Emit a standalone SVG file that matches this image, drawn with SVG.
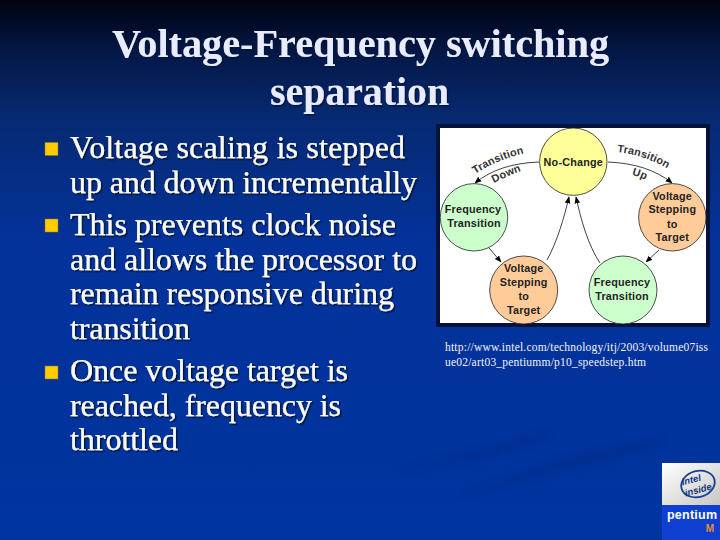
<svg xmlns="http://www.w3.org/2000/svg" width="720" height="540" viewBox="0 0 720 540">
<defs>
<linearGradient id="bg" x1="0" y1="0" x2="0" y2="1">
<stop offset="0" stop-color="#000210"/><stop offset="0.1" stop-color="#041848"/><stop offset="0.22" stop-color="#062a72"/><stop offset="0.45" stop-color="#03329a"/><stop offset="1" stop-color="#00349e"/>
</linearGradient>
<linearGradient id="logo" x1="0" y1="0" x2="1" y2="1"><stop offset="0" stop-color="#ffffff"/><stop offset="1" stop-color="#c9c7c0"/></linearGradient>
<marker id="ah" viewBox="0 0 10 10" refX="9" refY="5" markerWidth="7" markerHeight="7" orient="auto" markerUnits="userSpaceOnUse"><path d="M0 1L10 5L0 9Z" fill="#000"/></marker>
<filter id="sh" x="-5%" y="-5%" width="110%" height="110%"><feDropShadow dx="1.5" dy="1.5" stdDeviation="0.3" flood-color="#03123c" flood-opacity="1"/></filter>
<filter id="bl"><feGaussianBlur stdDeviation="3"/></filter>
<path id="p1" d="M475 174Q500 158 530 152"/>
<path id="p2" d="M494 183Q507 176 524 170"/>
<path id="p3" d="M617 152Q645 155 670 170"/>
<path id="p4" d="M632 175Q640 177 650 182"/>
</defs>
<style>
.title{font:700 41px "Liberation Serif",serif;fill:#e9ecff;text-anchor:middle}
.body{font:32px "Liberation Serif",serif;fill:#fbfbf4;stroke:#fbfbf4;stroke-width:.25}
.src{font:11.5px "Liberation Serif",serif;fill:#f4f4f4}
.n{font:700 10.8px "Liberation Sans",sans-serif;fill:#222;text-anchor:middle;letter-spacing:.2px}
.a{font:700 10.8px "Liberation Sans",sans-serif;fill:#333;letter-spacing:.2px}
.node{stroke:#222;stroke-width:.8}
.bul{fill:#ffcc00;stroke:#8a7a30;stroke-width:.5}
.cn{fill:none;stroke:#111;stroke-width:.8;marker-end:url(#ah)}
</style>
<rect width="720" height="540" fill="url(#bg)"/>
<g fill="#002a88" opacity=".6" filter="url(#bl)">
<path d="M459 497L560 460L660 438L660 446L560 470Z"/>
<path d="M400 470L480 450L547 432L547 438L480 458Z"/>
</g>
<g filter="url(#sh)">
<text class="title" x="360.500" y="57" textLength="497" lengthAdjust="spacingAndGlyphs">Voltage-Frequency switching</text>
<text class="title" x="359.500" y="105" textLength="179" lengthAdjust="spacingAndGlyphs">separation</text>
<text class="body" x="70" y="158" textLength="335">Voltage scaling is stepped</text>
<text class="body" x="70" y="193" textLength="347">up and down incrementally</text>
<text class="body" x="70" y="235" textLength="326">This prevents clock noise</text>
<text class="body" x="70" y="270" textLength="347">and allows the processor to</text>
<text class="body" x="70" y="304" textLength="324">remain responsive during</text>
<text class="body" x="70" y="339" textLength="120">transition</text>
<text class="body" x="70" y="381" textLength="278">Once voltage target is</text>
<text class="body" x="70" y="416" textLength="271">reached, frequency is</text>
<text class="body" x="70" y="450" textLength="108">throttled</text>
</g>
<rect class="bul" x="45" y="142.500" width="13" height="13"/>
<rect class="bul" x="45" y="219" width="13" height="13"/>
<rect class="bul" x="45" y="366" width="13" height="13"/>
<rect x="436" y="124" width="274" height="203" fill="#06123a"/>
<rect x="440" y="128" width="266" height="195" fill="#fff"/>
<g id="connectors">
<path class="cn" d="M539 162C512 163 491 170 475 183"/>
<path class="cn" d="M608 162C634 163 656 170 672 183"/>
<path class="cn" d="M489 248L501 262"/>
<path class="cn" d="M659 250L646 262"/>
<path class="cn" d="M547 260C557 242 564 218 569 197"/>
<path class="cn" d="M600 263C588 245 581 220 576 197"/>
</g>
<g id="no-change"><circle class="node" cx="573.3" cy="161.7" r="33.7" fill="#ffff99"/><text class="n" x="573.3" y="165.500">No-Change</text></g>
<g id="freq-left"><circle class="node" cx="474" cy="217.3" r="33.7" fill="#ccffcc"/><text class="n" x="473" y="213">Frequency</text><text class="n" x="474" y="227">Transition</text></g>
<g id="volt-right"><circle class="node" cx="672.3" cy="217.3" r="33.7" fill="#ffcc99"/><text class="n" x="672.3" y="200">Voltage</text><text class="n" x="672.3" y="213">Stepping</text><text class="n" x="672.3" y="227.500">to</text><text class="n" x="672.3" y="241">Target</text></g>
<g id="volt-bottom"><circle class="node" cx="523.7" cy="290" r="34" fill="#ffcc99"/><text class="n" x="523.7" y="272">Voltage</text><text class="n" x="523.7" y="285.500">Stepping</text><text class="n" x="523.7" y="300">to</text><text class="n" x="523.7" y="314">Target</text></g>
<g id="freq-bottom"><circle class="node" cx="623" cy="290" r="34" fill="#ccffcc"/><text class="n" x="622" y="286">Frequency</text><text class="n" x="622" y="299.500">Transition</text></g>
<text class="a"><textPath href="#p1">Transition</textPath></text>
<text class="a"><textPath href="#p2">Down</textPath></text>
<text class="a"><textPath href="#p3">Transition</textPath></text>
<text class="a"><textPath href="#p4">Up</textPath></text>
<text class="src" x="445" y="351" textLength="263">http://www.intel.com/technology/itj/2003/volume07iss</text>
<text class="src" x="445" y="366" textLength="201">ue02/art03_pentiumm/p10_speedstep.htm</text>
<g id="logo">
<rect x="662" y="463" width="58" height="77" fill="#0f3fd0"/>
<rect x="662" y="463" width="58" height="42" fill="url(#logo)"/>
<ellipse cx="698" cy="484" rx="17" ry="13" fill="none" stroke="#123f98" stroke-width="1.8" transform="rotate(-15 698 484)"/>
<text x="692" y="483" transform="rotate(-15 692 483)" style="font:italic 700 9.500px 'Liberation Sans',sans-serif;fill:#12357f" text-anchor="middle">intel</text>
<text x="699" y="493" transform="rotate(-15 699 493)" style="font:italic 700 9.500px 'Liberation Sans',sans-serif;fill:#12357f" text-anchor="middle">inside</text>
<text x="692" y="519" style="font:700 12.500px 'Liberation Sans',sans-serif;fill:#fff" text-anchor="middle" textLength="50">pentium</text>
<text x="710" y="532" style="font:700 10px 'Liberation Sans',sans-serif;fill:#e89030" text-anchor="middle">M</text>
</g>
</svg>
